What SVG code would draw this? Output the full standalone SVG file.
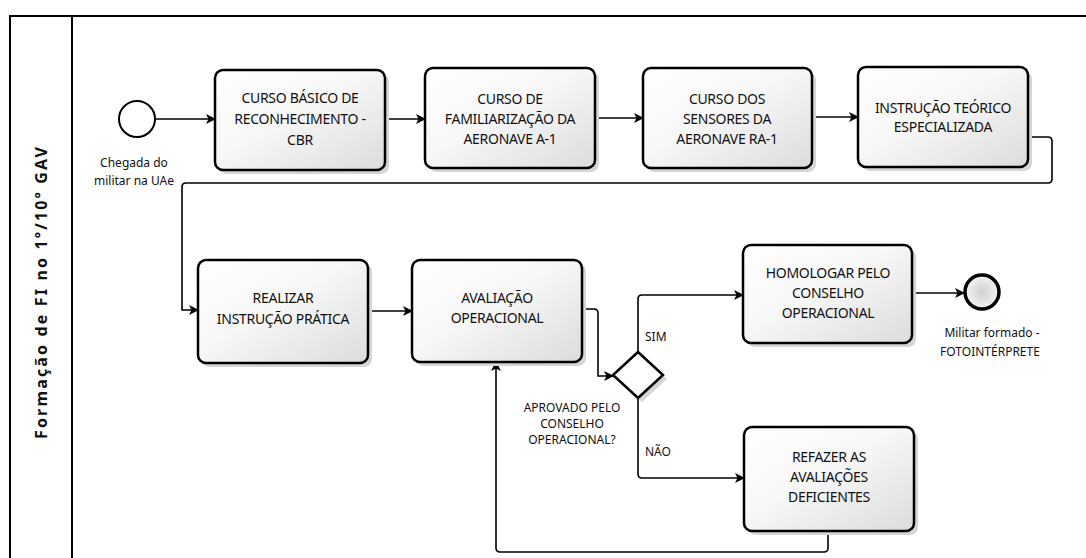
<svg xmlns="http://www.w3.org/2000/svg" width="1086" height="558" viewBox="0 0 1086 558">
<style>
.box{fill:url(#g);stroke:#000;stroke-width:2.5}
.shd{fill:#d6d6d6}
.t{font-family:"Noto Sans","Open Sans",sans-serif;font-size:14px;fill:#111;text-anchor:middle;letter-spacing:-0.3px}
.lb{font-family:"Noto Sans","Open Sans",sans-serif;font-size:12px;fill:#111}
.c{fill:none;stroke:#000;stroke-width:1.6}
.pool{fill:none;stroke:#000;stroke-width:2}
</style>
<defs>
<linearGradient id="g" x1="0" y1="0" x2="1" y2="1">
<stop offset="0" stop-color="#ffffff"/>
<stop offset="0.45" stop-color="#f7f7f7"/>
<stop offset="1" stop-color="#dcdcdc"/>
</linearGradient>
<radialGradient id="eg"><stop offset="0" stop-color="#d0d0d0"/><stop offset="1" stop-color="#f4f4f4"/></radialGradient>
<marker id="a" viewBox="0 0 10 10" refX="9" refY="5" markerWidth="10" markerHeight="10" markerUnits="userSpaceOnUse" orient="auto">
<path d="M0,0 L10,5 L0,10 L2.5,5 Z" fill="#000"/>
</marker>
</defs>
<rect width="1086" height="558" fill="#fff"/>
<g id="pool">
<rect class="pool" x="10" y="16" width="1090" height="560"/>
<line class="pool" x1="72" y1="16" x2="72" y2="558"/>
<text x="0" y="0" transform="translate(47,293) rotate(-90)" font-family="'Noto Sans','Open Sans',sans-serif" font-size="16" font-weight="bold" text-anchor="middle" textLength="292" lengthAdjust="spacing" fill="#111">Formação de FI  no 1º/10º GAV</text>
</g>
<g id="connectors">
<line class="c" x1="155" y1="119" x2="215" y2="119" marker-end="url(#a)"/>
<line class="c" x1="385" y1="119" x2="425" y2="119" marker-end="url(#a)"/>
<line class="c" x1="595" y1="118" x2="643" y2="118" marker-end="url(#a)"/>
<line class="c" x1="812" y1="117" x2="858" y2="117" marker-end="url(#a)"/>
<path class="c" d="M1028,137 H1048 Q1052,137 1052,141 V179 Q1052,183 1048,183 H186 Q182,183 182,187 V310 H198" marker-end="url(#a)"/>
<line class="c" x1="368" y1="311" x2="412" y2="311" marker-end="url(#a)"/>
<path class="c" d="M582,309 H594 Q598,309 598,313 V376 H613" marker-end="url(#a)"/>
<path class="c" d="M638,352 V299 Q638,295 642,295 H743" marker-end="url(#a)"/>
<path class="c" d="M638,398 V474 Q638,478 642,478 H744" marker-end="url(#a)"/>
<line class="c" x1="912" y1="293" x2="964" y2="293" marker-end="url(#a)"/>
<path class="c" d="M828,531 V548 Q828,552 824,552 H500 Q496,552 496,548 V362" marker-end="url(#a)"/>
<text class="lb" x="645" y="341">SIM</text>
<text class="lb" x="645" y="456">NÃO</text>
</g>
<g id="start">
<circle cx="137" cy="119" r="18" fill="#fff" stroke="#000" stroke-width="2"/>
<text class="lb" x="134" y="167" text-anchor="middle">Chegada do</text>
<text class="lb" x="134" y="185" text-anchor="middle">militar na UAe</text>
</g>
<g id="n1">
<rect class="shd" x="219" y="74" width="170" height="100" rx="8"/>
<rect class="box" x="215" y="70" width="170" height="100" rx="8"/>
<text class="t" x="300" y="103">CURSO BÁSICO DE</text>
<text class="t" x="300" y="124">RECONHECIMENTO -</text>
<text class="t" x="300" y="145">CBR</text>
</g>
<g id="n2">
<rect class="shd" x="429" y="72" width="170" height="100" rx="8"/>
<rect class="box" x="425" y="68" width="170" height="100" rx="8"/>
<text class="t" x="510" y="104">CURSO DE</text>
<text class="t" x="510" y="124">FAMILIARIZAÇÃO DA</text>
<text class="t" x="510" y="144">AERONAVE A-1</text>
</g>
<g id="n3">
<rect class="shd" x="647" y="72" width="169" height="100" rx="8"/>
<rect class="box" x="643" y="68" width="169" height="100" rx="8"/>
<text class="t" x="727" y="104">CURSO DOS</text>
<text class="t" x="727" y="124">SENSORES DA</text>
<text class="t" x="727" y="144">AERONAVE RA-1</text>
</g>
<g id="n4">
<rect class="shd" x="862" y="71" width="170" height="100" rx="8"/>
<rect class="box" x="858" y="67" width="170" height="100" rx="8"/>
<text class="t" x="943" y="113">INSTRUÇÃO TEÓRICO</text>
<text class="t" x="943" y="132">ESPECIALIZADA</text>
</g>
<g id="n5">
<rect class="shd" x="202" y="264" width="170" height="103" rx="8"/>
<rect class="box" x="198" y="260" width="170" height="103" rx="8"/>
<text class="t" x="283" y="303">REALIZAR</text>
<text class="t" x="283" y="324">INSTRUÇÃO PRÁTICA</text>
</g>
<g id="n6">
<rect class="shd" x="416" y="264" width="170" height="102" rx="8"/>
<rect class="box" x="412" y="260" width="170" height="102" rx="8"/>
<text class="t" x="497" y="303">AVALIAÇÃO</text>
<text class="t" x="497" y="323">OPERACIONAL</text>
</g>
<g id="gateway">
<polygon points="642,356 667,379 642,402 617,379" fill="#d6d6d6"/>
<polygon points="638,352 663,375 638,398 613,375" fill="#fff" stroke="#000" stroke-width="2.5"/>
<text class="lb" x="572" y="412" text-anchor="middle">APROVADO PELO</text>
<text class="lb" x="572" y="428" text-anchor="middle">CONSELHO</text>
<text class="lb" x="572" y="444" text-anchor="middle">OPERACIONAL?</text>
</g>
<g id="n7">
<rect class="shd" x="747" y="249" width="169" height="98" rx="8"/>
<rect class="box" x="743" y="245" width="169" height="98" rx="8"/>
<text class="t" x="828" y="278">HOMOLOGAR PELO</text>
<text class="t" x="828" y="298">CONSELHO</text>
<text class="t" x="828" y="318">OPERACIONAL</text>
</g>
<g id="n8">
<rect class="shd" x="748" y="431" width="170" height="104" rx="8"/>
<rect class="box" x="744" y="427" width="170" height="104" rx="8"/>
<text class="t" x="829" y="462">REFAZER AS</text>
<text class="t" x="829" y="482">AVALIAÇÕES</text>
<text class="t" x="829" y="502">DEFICIENTES</text>
</g>
<g id="end">
<circle cx="982" cy="292" r="17" fill="url(#eg)" stroke="#000" stroke-width="3.5"/>
<text class="lb" x="992" y="337" text-anchor="middle">Militar formado -</text>
<text class="lb" x="990" y="356" text-anchor="middle">FOTOINTÉRPRETE</text>
</g>
</svg>
